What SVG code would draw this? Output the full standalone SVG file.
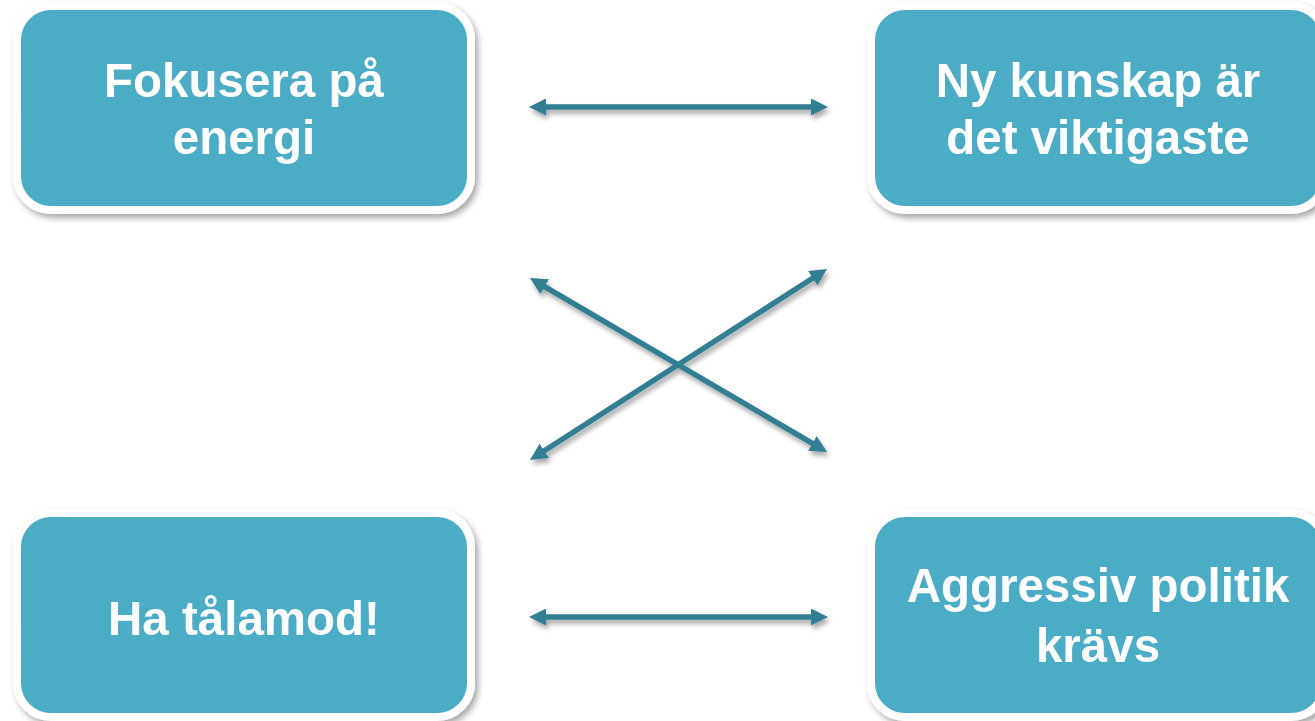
<svg xmlns="http://www.w3.org/2000/svg" width="1315" height="721" viewBox="0 0 1315 721">
<style>
.box{fill:#4BACC6;stroke:#FFFFFF;stroke-width:8}
.lbl{font-family:"Liberation Sans",Arial,sans-serif;font-weight:bold;font-size:47.5px;fill:#FFFFFF;text-anchor:middle}
.conn{stroke:#327E92;stroke-width:5.5;fill:none;marker-start:url(#ah);marker-end:url(#ah)}
</style>
<defs>
<filter id="sh" x="-10%" y="-10%" width="125%" height="130%">
<feDropShadow dx="3" dy="4" stdDeviation="3" flood-color="#000" flood-opacity="0.35"/>
</filter>
<filter id="ash" x="-10%" y="-50%" width="125%" height="200%">
<feDropShadow dx="2" dy="4" stdDeviation="2.5" flood-color="#000" flood-opacity="0.35"/>
</filter>
<marker id="ah" viewBox="0 0 17 17" markerUnits="userSpaceOnUse" markerWidth="17" markerHeight="17" refX="4" refY="8.5" orient="auto-start-reverse">
<path d="M0,0 L17,8.5 L0,17 z" fill="#327E92"/>
</marker>
</defs>
<rect width="1315" height="721" fill="#FFFFFF"/>
<g id="node-fokusera" filter="url(#sh)">
<rect class="box" x="17" y="6" width="454" height="204" rx="34"/>
<text class="lbl" x="244" y="97">Fokusera på</text>
<text class="lbl" x="244" y="154">energi</text>
</g>
<g id="node-nykunskap" filter="url(#sh)">
<rect class="box" x="871" y="6" width="454" height="204" rx="34"/>
<text class="lbl" x="1098" y="97">Ny kunskap är</text>
<text class="lbl" x="1098" y="154">det viktigaste</text>
</g>
<g id="node-talamod" filter="url(#sh)">
<rect class="box" x="17" y="513" width="454" height="204" rx="34"/>
<text class="lbl" x="244" y="635">Ha tålamod!</text>
</g>
<g id="node-aggressiv" filter="url(#sh)">
<rect class="box" x="871" y="513" width="454" height="204" rx="34"/>
<text class="lbl" x="1098" y="602">Aggressiv politik</text>
<text class="lbl" x="1098" y="662">krävs</text>
</g>
<g id="connectors" filter="url(#ash)">
<line class="conn" x1="542" y1="107" x2="815" y2="107"/>
<line class="conn" x1="541.2" y1="284.6" x2="815.8" y2="445.4"/>
<line class="conn" x1="540.9" y1="453" x2="816.1" y2="276"/>
<line class="conn" x1="542" y1="617" x2="815" y2="617"/>
</g>
</svg>
